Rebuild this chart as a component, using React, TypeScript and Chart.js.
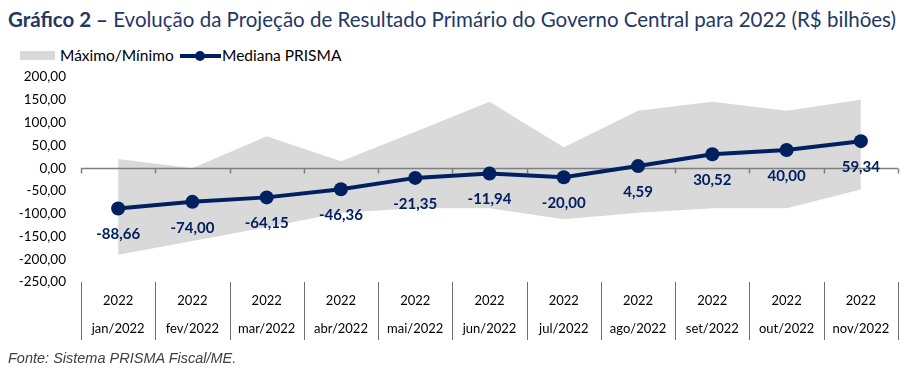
import React, { useEffect, useRef } from "react";
import { Chart, registerables } from "chart.js";

Chart.register(...registerables);

const categories = ["jan/2022", "fev/2022", "mar/2022", "abr/2022", "mai/2022", "jun/2022", "jul/2022", "ago/2022", "set/2022", "out/2022", "nov/2022"];
const years = ["2022", "2022", "2022", "2022", "2022", "2022", "2022", "2022", "2022", "2022", "2022"];
const mediana = [-88.66, -74.0, -64.15, -46.36, -21.35, -11.94, -20.0, 4.59, 30.52, 40.0, 59.34];
const maximo = [20, 0, 70, 15, 80, 146, 46, 126, 146, 126, 150];
const minimo = [-190, -160, -130, -98, -88, -88, -112, -98, -88, -88, -47];
const yTicks = [200, 150, 100, 50, 0, -50, -100, -150, -200, -250];

const NAVY = "#002060";
const GRAY = "#D9D9D9";
const FONT = "Lato, 'Noto Sans', sans-serif";

const fmt = (v: number) => v.toFixed(2).replace(".", ",");

const customPlugin = {
  id: "custom",
  afterDatasetDraw(chart: any, args: any) {
    if (args.index !== 1) return;
    const { ctx, chartArea } = chart;
    const y0 = Math.round(chart.scales.y.getPixelForValue(0)) + 0.5;
    const n = categories.length;
    const w = (chartArea.right - chartArea.left) / n;
    ctx.save();
    ctx.strokeStyle = "#7f7f7f";
    ctx.lineWidth = 1.5;
    ctx.beginPath();
    ctx.moveTo(chartArea.left, y0);
    ctx.lineTo(chartArea.right, y0);
    for (let i = 0; i <= n; i++) {
      const x = Math.round(chartArea.left + i * w) + 0.5;
      ctx.moveTo(x, y0);
      ctx.lineTo(x, y0 + 5);
    }
    ctx.stroke();
    ctx.restore();
  },
  afterDatasetsDraw(chart: any) {
    const { ctx, chartArea } = chart;
    const n = categories.length;
    const w = (chartArea.right - chartArea.left) / n;
    ctx.save();
    ctx.strokeStyle = "#6f6f6f";
    ctx.lineWidth = 1;
    ctx.beginPath();
    for (let i = 0; i <= n; i++) {
      const x = Math.round(chartArea.left + i * w) + 0.5;
      ctx.moveTo(x, chartArea.bottom);
      ctx.lineTo(x, chartArea.bottom + 58);
    }
    ctx.stroke();
    const meta = chart.getDatasetMeta(0);
    ctx.fillStyle = NAVY;
    ctx.font = `bold 15px ${FONT}`;
    ctx.textAlign = "center";
    ctx.textBaseline = "middle";
    meta.data.forEach((pt: any, i: number) => {
      ctx.fillText(fmt(mediana[i]), pt.x, pt.y + 26);
    });
    ctx.restore();
  },
};

export default function App() {
  const ref = useRef<HTMLCanvasElement>(null);
  useEffect(() => {
    if (!ref.current) return;
    const chart = new Chart(ref.current, {
      type: "line",
      data: {
        labels: categories.map((c, i) => [years[i], c]),
        datasets: [
          {
            label: "Mediana PRISMA",
            data: mediana,
            borderColor: NAVY,
            backgroundColor: NAVY,
            borderWidth: 4,
            pointRadius: 7,
            pointBackgroundColor: NAVY,
            pointBorderWidth: 0,
            fill: false,
            tension: 0,
          },
          {
            label: "Máximo",
            data: maximo,
            borderWidth: 0,
            pointRadius: 0,
            backgroundColor: GRAY,
            fill: "+1",
            tension: 0,
          },
          {
            label: "Mínimo",
            data: minimo,
            borderWidth: 0,
            pointRadius: 0,
            backgroundColor: GRAY,
            fill: false,
            tension: 0,
          },
        ],
      },
      options: {
        animation: false,
        responsive: false,
        maintainAspectRatio: false,
        layout: { padding: { top: 9, right: 2, left: 0, bottom: 0 } },
        plugins: { legend: { display: false }, tooltip: { enabled: false } },
        scales: {
          x: {
            type: "category",
            offset: true,
            grid: { display: false, drawTicks: false },
            border: { display: false },
            ticks: {
              color: "#000",
              font: { family: FONT, size: 13, lineHeight: 2.15 },
              padding: 5,
              maxRotation: 0,
              autoSkip: false,
            },
            afterFit: (s: any) => {
              s.height = 68;
            },
          },
          y: {
            min: -250,
            max: 200,
            grid: { display: false, drawTicks: false },
            border: { display: false },
            afterBuildTicks: (s: any) => {
              s.ticks = yTicks.map((v) => ({ value: v }));
            },
            ticks: {
              color: "#000",
              padding: 15,
              font: { family: FONT, size: 13.5 },
              callback: (v: any) => fmt(Number(v)),
            },
            afterFit: (s: any) => {
              s.width = 81;
            },
          },
        },
      },
      plugins: [customPlugin],
    });
    return () => chart.destroy();
  }, []);

  return (
    <div style={{ position: "absolute", left: 0, top: 0, width: 905, height: 369, background: "#fff", fontFamily: FONT }}>
      <div style={{ position: "absolute", left: 8, top: 5, fontSize: 20.5, color: "#1F3864", whiteSpace: "nowrap", lineHeight: "28px" }}>
        <b>Gráfico 2 –</b> Evolução da Projeção de Resultado Primário do Governo Central para 2022 (R$ bilhões)
      </div>
      <div style={{ position: "absolute", left: 20, top: 51, width: 35, height: 9, background: GRAY }} />
      <div style={{ position: "absolute", left: 60, top: 45, fontSize: 15.5, lineHeight: "21px", color: "#000" }}>Máximo/Mínimo</div>
      <div style={{ position: "absolute", left: 180, top: 54, width: 41, height: 4, background: NAVY }} />
      <div style={{ position: "absolute", left: 195, top: 51, width: 10, height: 10, borderRadius: 5, background: NAVY }} />
      <div style={{ position: "absolute", left: 222, top: 45, fontSize: 15.5, lineHeight: "21px", color: "#000" }}>Mediana PRISMA</div>
      <canvas ref={ref} width={905} height={296} style={{ position: "absolute", left: 0, top: 54, width: 905, height: 296 }} />
      <div style={{ position: "absolute", left: 8, top: 349, fontSize: 14.5, fontStyle: "italic", color: "#404040", fontFamily: "'Liberation Sans', Arial, sans-serif", lineHeight: "18px" }}>
        Fonte: Sistema PRISMA Fiscal/ME.
      </div>
    </div>
  );
}
